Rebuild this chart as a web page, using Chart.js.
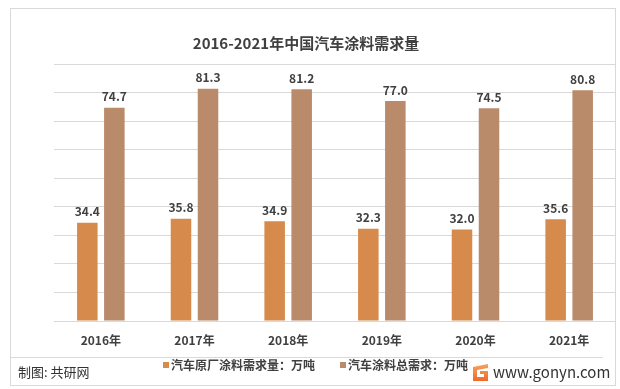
<!DOCTYPE html>
<html>
<head>
<meta charset="utf-8">
<script src="https://cdn.jsdelivr.net/npm/chart.js@4"></script>
<style>
html,body{margin:0;padding:0;background:#fff;}
#wrap{width:620px;height:389px;position:relative;}
</style>
</head>
<body>
<div id="wrap"><canvas id="c" width="620" height="389"></canvas></div>
<script>
const title = '2016-2021年中国汽车涂料需求量';
const categories = ['2016年','2017年','2018年','2019年','2020年','2021年'];
const oemDemand = [34.4, 35.8, 34.9, 32.3, 32.0, 35.6];
const totalDemand = [74.7, 81.3, 81.2, 77.0, 74.5, 80.8];
const seriesNames = ['汽车原厂涂料需求量：万吨', '汽车涂料总需求：万吨'];
const yTicks = [0,10,20,30,40,50,60,70,80,90];
const sourceText = '制图: 共研网';
const siteText = 'www.gonyn.com';

const FONT = '"Noto Sans CJK SC", "Noto Sans", sans-serif';
const colors = ['#D68B4D', '#BA8B6B'];

const decor = {
  id: 'decor',
  beforeDraw(chart) {
    const ctx = chart.ctx;
    ctx.save();
    ctx.fillStyle = '#fff';
    ctx.fillRect(0,0,chart.width,chart.height);
    ctx.strokeStyle = '#d9d9d9';
    ctx.lineWidth = 1;
    ctx.strokeRect(10.5, 8.5, 605, 377);
    ctx.restore();
  },
  afterDraw(chart) {
    const ctx = chart.ctx;
    ctx.save();
    // title
    ctx.fillStyle = '#404040';
    ctx.font = 'bold 15px ' + FONT;
    ctx.textAlign = 'center';
    ctx.textBaseline = 'middle';
    ctx.fillText(title, 306, 43);
    // data labels
    ctx.font = 'bold 12px ' + FONT;
    ctx.textBaseline = 'bottom';
    chart.data.datasets.forEach((ds, i) => {
      const meta = chart.getDatasetMeta(i);
      meta.data.forEach((bar, j) => {
        ctx.fillText(ds.data[j].toFixed(1), bar.x, bar.y - 5);
      });
    });
    // separator line
    ctx.strokeStyle = '#d9d9d9';
    ctx.beginPath();
    ctx.moveTo(11, 357.5);
    ctx.lineTo(603, 357.5);
    ctx.stroke();
    // legend
    ctx.font = 'bold 12px ' + FONT;
    ctx.textAlign = 'left';
    ctx.textBaseline = 'middle';
    const legendX = [163, 340];
    chart.data.datasets.forEach((ds, i) => {
      ctx.fillStyle = ds.backgroundColor;
      ctx.fillRect(legendX[i], 362, 6, 6);
      ctx.fillStyle = '#404040';
      ctx.fillText(ds.label, legendX[i] + 8, 365);
    });
    // source
    ctx.font = '13px ' + FONT;
    ctx.fillStyle = '#333';
    ctx.fillText(sourceText, 18, 372);
    // logo
    const lx = 471, ly = 364;
    const g = ctx.createLinearGradient(lx, ly, lx, ly + 17);
    g.addColorStop(0, '#F7A35C');
    g.addColorStop(1, '#EE6A2C');
    ctx.fillStyle = g;
    ctx.beginPath();
    ctx.moveTo(lx + 2, ly + 3);
    ctx.lineTo(lx + 17, ly);
    ctx.lineTo(lx + 17, ly + 4);
    ctx.lineTo(lx + 6, ly + 6);
    ctx.lineTo(lx + 6, ly + 13);
    ctx.lineTo(lx + 13, ly + 13);
    ctx.lineTo(lx + 13, ly + 10);
    ctx.lineTo(lx + 9, ly + 10);
    ctx.lineTo(lx + 9, ly + 7);
    ctx.lineTo(lx + 17, ly + 7);
    ctx.lineTo(lx + 17, ly + 17);
    ctx.lineTo(lx + 2, ly + 17);
    ctx.closePath();
    ctx.fill();
    // site
    ctx.font = '15px ' + FONT;
    ctx.fillStyle = '#333';
    ctx.fillText(siteText, 493, 372);
    ctx.restore();
  }
};

new Chart(document.getElementById('c'), {
  type: 'bar',
  data: {
    labels: categories,
    datasets: [
      { label: seriesNames[0], data: oemDemand, backgroundColor: colors[0] },
      { label: seriesNames[1], data: totalDemand, backgroundColor: colors[1] }
    ]
  },
  options: {
    responsive: false,
    animation: false,
    devicePixelRatio: 1,
    categoryPercentage: 0.577,
    barPercentage: 0.76,
    layout: { padding: { left: 54, right: 4, top: 64, bottom: 0 } },
    plugins: { legend: { display: false }, title: { display: false }, tooltip: { enabled: false } },
    scales: {
      x: {
        grid: { display: false, drawTicks: false },
        border: { display: false },
        ticks: { color: '#404040', font: { family: FONT, size: 12, weight: 'bold' }, padding: 12 },
        afterFit: s => { s.height = 68; }
      },
      y: {
        min: 0, max: 90,
        afterBuildTicks: s => { s.ticks = yTicks.map(v => ({ value: v })); },
        ticks: { display: false },
        grid: { color: '#d9d9d9', drawTicks: false },
        border: { display: false },
        afterFit: s => { s.width = 0; }
      }
    }
  },
  plugins: [decor]
});
</script>
</body>
</html>
